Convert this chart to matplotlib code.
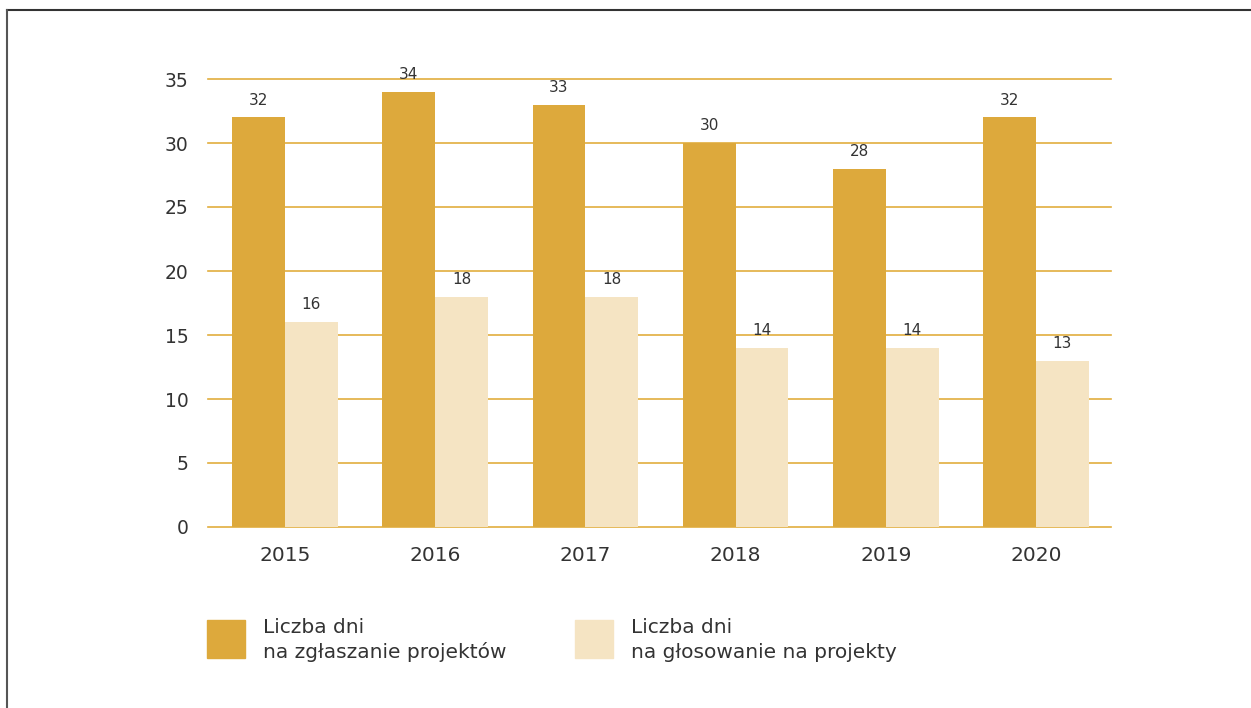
import matplotlib
matplotlib.use("Agg")
import matplotlib.pyplot as plt
from matplotlib.patches import Rectangle
from matplotlib.lines import Line2D
import numpy as np

years = ["2015", "2016", "2017", "2018", "2019", "2020"]
zgloszenia = [32, 34, 33, 30, 28, 32]
glosowanie = [16, 18, 18, 14, 14, 13]
labels = ["Liczba dni\nna zgłaszanie projektów", "Liczba dni\nna głosowanie na projekty"]

dark = "#DDA93C"
light = "#F5E4C3"
grid = "#E2AE3E"
txt = "#333333"

plt.rcParams["font.family"] = ["DejaVu Sans"]

fig = plt.figure(figsize=(12.51, 7.08), dpi=100)
ax = fig.add_axes([208 / 1251, 1 - 527 / 708, 903 / 1251, 448 / 708])

x = np.arange(len(years))
w = 0.352
b1 = ax.bar(x - w / 2, zgloszenia, w, color=dark, zorder=2)
b2 = ax.bar(x + w / 2, glosowanie, w, color=light, zorder=2)
ax.bar_label(b1, padding=7, fontsize=11, color=txt)
ax.bar_label(b2, padding=7, fontsize=11, color=txt)

ax.set_xlim(-0.513, len(years) - 0.5)
ax.set_ylim(0, 35)
ax.set_yticks(range(0, 36, 5))
ax.set_xticks(x)
ax.set_xticklabels(years)
ax.yaxis.grid(True, color=grid, linewidth=1.2, zorder=1)
for gl in ax.get_ygridlines():
    gl.set_clip_on(False)
ax.set_axisbelow(True)
for s in ax.spines.values():
    s.set_visible(False)
ax.tick_params(axis="y", length=0, labelsize=13.5, colors=txt, pad=14)
ax.tick_params(axis="x", length=0, labelsize=14.5, colors=txt, pad=14)

# legend
for i, (lab, col) in enumerate(zip(labels, [dark, light])):
    x0 = [207, 575][i]
    fig.patches.append(Rectangle((x0 / 1251, 1 - 658 / 708), 38 / 1251, 38 / 708,
                                 transform=fig.transFigure, color=col))
    fig.text((x0 + 56) / 1251, 1 - 640 / 708, lab, fontsize=14.5, color=txt,
             va="center", ha="left", linespacing=1.35)

# frame (top and left only)
fig.lines.append(Line2D([7 / 1251, 1], [1 - 10 / 708, 1 - 10 / 708], transform=fig.transFigure,
                        color="#333333", linewidth=1.5))
fig.lines.append(Line2D([7 / 1251, 7 / 1251], [0, 1 - 10 / 708], transform=fig.transFigure,
                        color="#555555", linewidth=1.5))

fig.savefig("out.png", dpi=100)
